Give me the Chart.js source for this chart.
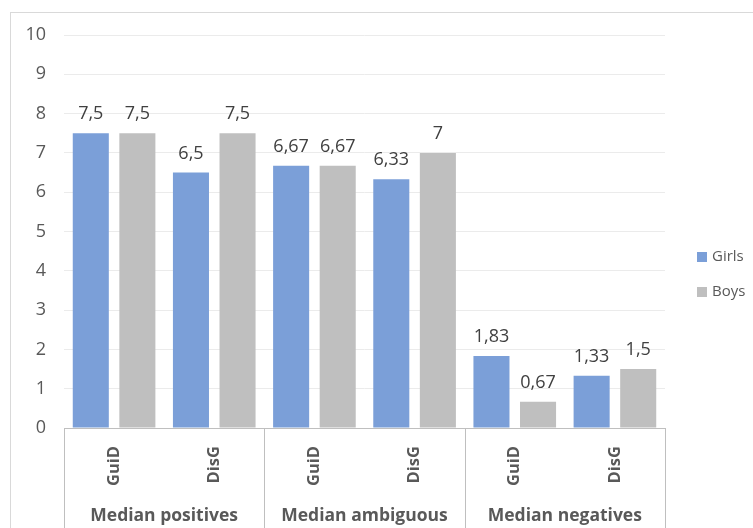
<!DOCTYPE html>
<html>
<head>
<meta charset="utf-8">
<script src="https://cdn.jsdelivr.net/npm/chart.js@4.4.1/dist/chart.umd.min.js"></script>
<style>
  html, body { margin: 0; padding: 0; background: #fff; overflow: hidden; }
  #wrap { position: relative; width: 753px; height: 528px; }
  #frame { position: absolute; left: 10px; top: 12px; width: 800px; height: 600px; border: 1px solid #d9d9d9; box-sizing: border-box; }
  #c { position: absolute; left: 0; top: 0; }
</style>
</head>
<body>
<div id="wrap">
  <div id="frame"></div>
  <canvas id="c" width="753" height="528"></canvas>
</div>
<script>
// Median scores by group, condition and gender
const groups = ['Median positives', 'Median ambiguous', 'Median negatives'];
const conditions = ['GuiD', 'DisG', 'GuiD', 'DisG', 'GuiD', 'DisG'];
const girls = [7.5, 6.5, 6.67, 6.33, 1.83, 1.33];
const boys = [7.5, 7.5, 6.67, 7, 0.67, 1.5];
const seriesNames = ['Girls', 'Boys'];
const yMin = 0, yMax = 10, yStep = 1;

const BLUE = '#7b9fd8';
const GREY = '#bfbfbf';
const TEXT = '#595959';
const FONT = '"Open Sans", Lato, sans-serif';

// Value labels above each bar, using a decimal comma
const valueLabels = {
  id: 'valueLabels',
  afterDatasetsDraw(chart) {
    const ctx = chart.ctx;
    ctx.save();
    ctx.font = '18px ' + FONT;
    ctx.fillStyle = '#404040';
    ctx.textAlign = 'center';
    ctx.textBaseline = 'alphabetic';
    chart.data.datasets.forEach((ds, di) => {
      chart.getDatasetMeta(di).data.forEach((bar, i) => {
        const txt = String(ds.data[i]).replace('.', ',');
        ctx.fillText(txt, bar.x, bar.y - 14);
      });
    });
    ctx.restore();
  }
};

// Separators of the two-level category axis
const groupSeparators = {
  id: 'groupSeparators',
  afterDraw(chart) {
    const ctx = chart.ctx;
    const x = chart.scales.x;
    const area = chart.chartArea;
    const per = conditions.length / groups.length;
    const xs = [area.left];
    for (let g = 1; g < groups.length; g++) {
      xs.push((x.getPixelForValue(g * per - 1) + x.getPixelForValue(g * per)) / 2);
    }
    xs.push(area.right);
    ctx.save();
    ctx.strokeStyle = GREY;
    ctx.lineWidth = 1;
    ctx.beginPath();
    xs.forEach(px => {
      const p = Math.round(px) + 0.5;
      ctx.moveTo(p, area.bottom);
      ctx.lineTo(p, chart.height);
    });
    ctx.stroke();
    ctx.restore();
  }
};

// Legend to the right of the plot
const sideLegend = {
  id: 'sideLegend',
  afterDraw(chart) {
    const ctx = chart.ctx;
    const area = chart.chartArea;
    const x0 = area.right + 32;
    const y0 = 257, gap = 35;
    ctx.save();
    ctx.font = '15px ' + FONT;
    ctx.textBaseline = 'middle';
    ctx.textAlign = 'left';
    chart.data.datasets.forEach((ds, i) => {
      const y = y0 + i * gap;
      ctx.fillStyle = ds.backgroundColor;
      ctx.fillRect(x0, y - 5, 10, 10);
      ctx.fillStyle = TEXT;
      ctx.fillText(ds.label, x0 + 15, y);
    });
    ctx.restore();
  }
};

new Chart(document.getElementById('c'), {
  type: 'bar',
  data: {
    labels: conditions,
    datasets: [
      { label: seriesNames[0], data: girls, backgroundColor: BLUE },
      { label: seriesNames[1], data: boys, backgroundColor: GREY }
    ]
  },
  options: {
    responsive: false,
    animation: false,
    devicePixelRatio: 1,
    categoryPercentage: 0.93,
    barPercentage: 0.774,
    layout: { padding: { left: 10, top: 35, right: 88, bottom: 0 } },
    plugins: {
      legend: { display: false },
      tooltip: { enabled: false }
    },
    scales: {
      y: {
        min: yMin,
        max: yMax,
        ticks: { stepSize: yStep, color: TEXT, font: { family: FONT, size: 18 }, padding: 18 },
        grid: { color: '#ebebeb', drawTicks: false },
        border: { display: false },
        afterFit(s) { s.width = 54; }
      },
      x: {
        position: 'bottom',
        grid: { display: false },
        border: { color: GREY },
        ticks: {
          autoSkip: false, minRotation: 90, maxRotation: 90,
          color: TEXT, font: { family: FONT, size: 16.5, weight: 'bold' }, padding: 10
        },
        afterFit(s) { s.height = 60; }
      },
      x2: {
        type: 'category',
        position: 'bottom',
        labels: groups,
        grid: { display: false },
        border: { display: false },
        ticks: { color: TEXT, font: { family: FONT, size: 17.5, weight: 'bold' }, padding: 10 },
        afterFit(s) { s.height = 40; }
      }
    }
  },
  plugins: [valueLabels, groupSeparators, sideLegend]
});
</script>
</body>
</html>
